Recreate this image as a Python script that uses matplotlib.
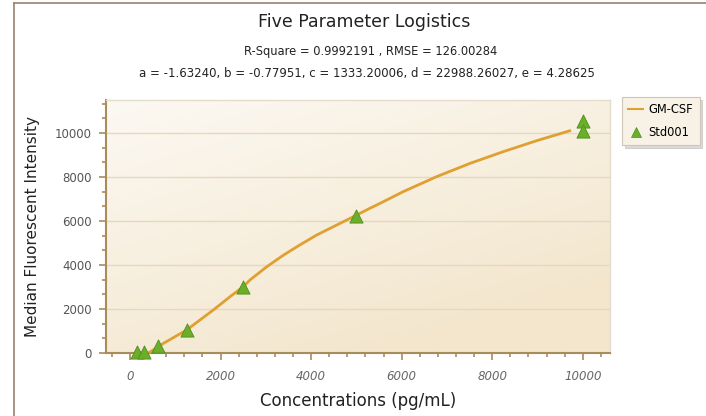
"""Five parameter logistic standard curve for GM-CSF (Std001)."""
import numpy as np
import matplotlib
matplotlib.use("Agg")
import matplotlib.pyplot as plt
from matplotlib.ticker import AutoMinorLocator, MultipleLocator
from matplotlib.lines import Line2D

# standards (concentration, MFI)
std_conc = [156.25, 312.5, 625, 1250, 2500, 5000, 10000, 10000]
std_mfi = [30, 60, 300, 1050, 3000, 6250, 10550, 10100]

# fitted curve
fit_conc = [430, 740, 1250, 1840, 2210, 2500, 2650, 3020, 3390, 3750, 4120,
            4490, 4860, 5300, 5520, 6030, 6770, 7510, 8240, 8980, 9710]
fit_mfi = [30, 440, 1045, 1955, 2560, 3015, 3320, 3920, 4450, 4910, 5360,
           5740, 6120, 6580, 6800, 7330, 8015, 8620, 9150, 9650, 10100]

title = "Five Parameter Logistics"
subtitle1 = "R-Square = 0.9992191 , RMSE = 126.00284"
subtitle2 = ("a = -1.63240, b = -0.77951, c = 1333.20006, "
             "d = 22988.26027, e = 4.28625")

W, H = 706, 416
fig = plt.figure(figsize=(W / 100, H / 100), dpi=100)
fig.patch.set_facecolor("white")

# outer frame
fig.add_artist(Line2D([14 / W, 14 / W], [0, 1 - 3 / H], color="#9a8272",
                      lw=1.2, transform=fig.transFigure))
fig.add_artist(Line2D([14 / W, 1], [1 - 3 / H, 1 - 3 / H], color="#9a8272",
                      lw=1.2, transform=fig.transFigure))

ax = fig.add_axes([106 / W, 1 - 353 / H, (610 - 106) / W, (353 - 100) / H])

# cream gradient background, light top-left to beige bottom-right
gx, gy = np.meshgrid(np.linspace(0, 1, 200), np.linspace(0, 1, 200))
t = np.clip(0.45 * gx + 0.75 * (1 - gy), 0, 1)[:, :, None]
c0 = np.array([252, 249, 243]) / 255
c1 = np.array([243, 230, 205]) / 255
grad = c0 * (1 - t) + c1 * t
ax.imshow(grad, extent=[0, 1, 0, 1], transform=ax.transAxes, aspect="auto",
          origin="lower", zorder=0)

ax.set_xlim(-530, 10600)
ax.set_ylim(0, 11500)

ax.yaxis.set_major_locator(MultipleLocator(2000))
ax.yaxis.set_minor_locator(AutoMinorLocator(3))
ax.xaxis.set_major_locator(MultipleLocator(2000))
ax.xaxis.set_minor_locator(MultipleLocator(400))
ax.grid(True, axis="y", which="major", color="#e6d8bd", lw=1, zorder=1)

ax.plot(fit_conc, fit_mfi, color="#e0a030", lw=2, zorder=3)
ax.scatter(std_conc, std_mfi, marker="^", s=90, color="#6aae2a",
           edgecolors="#4f8f1c", linewidths=0.6, zorder=4, clip_on=False)

tick_col = "#a88c5c"
for side in ["left", "bottom"]:
    ax.spines[side].set_color(tick_col)
    ax.spines[side].set_linewidth(1.5)
for side in ["top", "right"]:
    ax.spines[side].set_color("#e4dccd")
    ax.spines[side].set_linewidth(1)
ax.tick_params(which="both", direction="out", color=tick_col, width=1.2)
ax.tick_params(which="major", length=5)
ax.tick_params(which="minor", length=3)
ax.tick_params(axis="y", labelsize=8.5, labelcolor="#555555", pad=5)
ax.tick_params(axis="x", labelsize=8.5, labelcolor="#666666", pad=7)
for lab in ax.get_xticklabels():
    lab.set_fontstyle("italic")

ax.set_xlabel("Concentrations (pg/mL)", fontsize=12, color="#222222",
              labelpad=7)
ax.set_ylabel("Median Fluorescent Intensity", fontsize=11, color="#222222",
              labelpad=11)

fig.text(364 / W, 1 - 22 / H, title, ha="center", va="center",
         fontsize=12.5, color="#222222")
fig.text(371 / W, 1 - 52 / H, subtitle1, ha="center", va="center",
         fontsize=8.3, color="#222222")
fig.text(367 / W, 1 - 73 / H, subtitle2, ha="center", va="center",
         fontsize=8.5, color="#222222")

handles = [Line2D([], [], color="#e0a030", lw=1.5),
           Line2D([], [], color="#6aae2a", marker="^", ls="", ms=7,
                  markeredgecolor="#4f8f1c", markeredgewidth=0.5)]
leg = fig.legend(handles, ["GM-CSF", "Std001"], loc="upper left",
                 bbox_to_anchor=(622 / W, 1 - 97 / H), fontsize=8.3,
                 frameon=True, fancybox=False,
                 shadow={"color": "#999999", "alpha": 0.35},
                 handlelength=1.3, handletextpad=0.45, borderpad=0.55,
                 borderaxespad=0, labelspacing=0.85)
leg.get_frame().set_facecolor("#f8f2e6")
leg.get_frame().set_edgecolor("#cfc6b6")
leg.get_frame().set_linewidth(0.8)

fig.savefig("out.png", dpi=100)
